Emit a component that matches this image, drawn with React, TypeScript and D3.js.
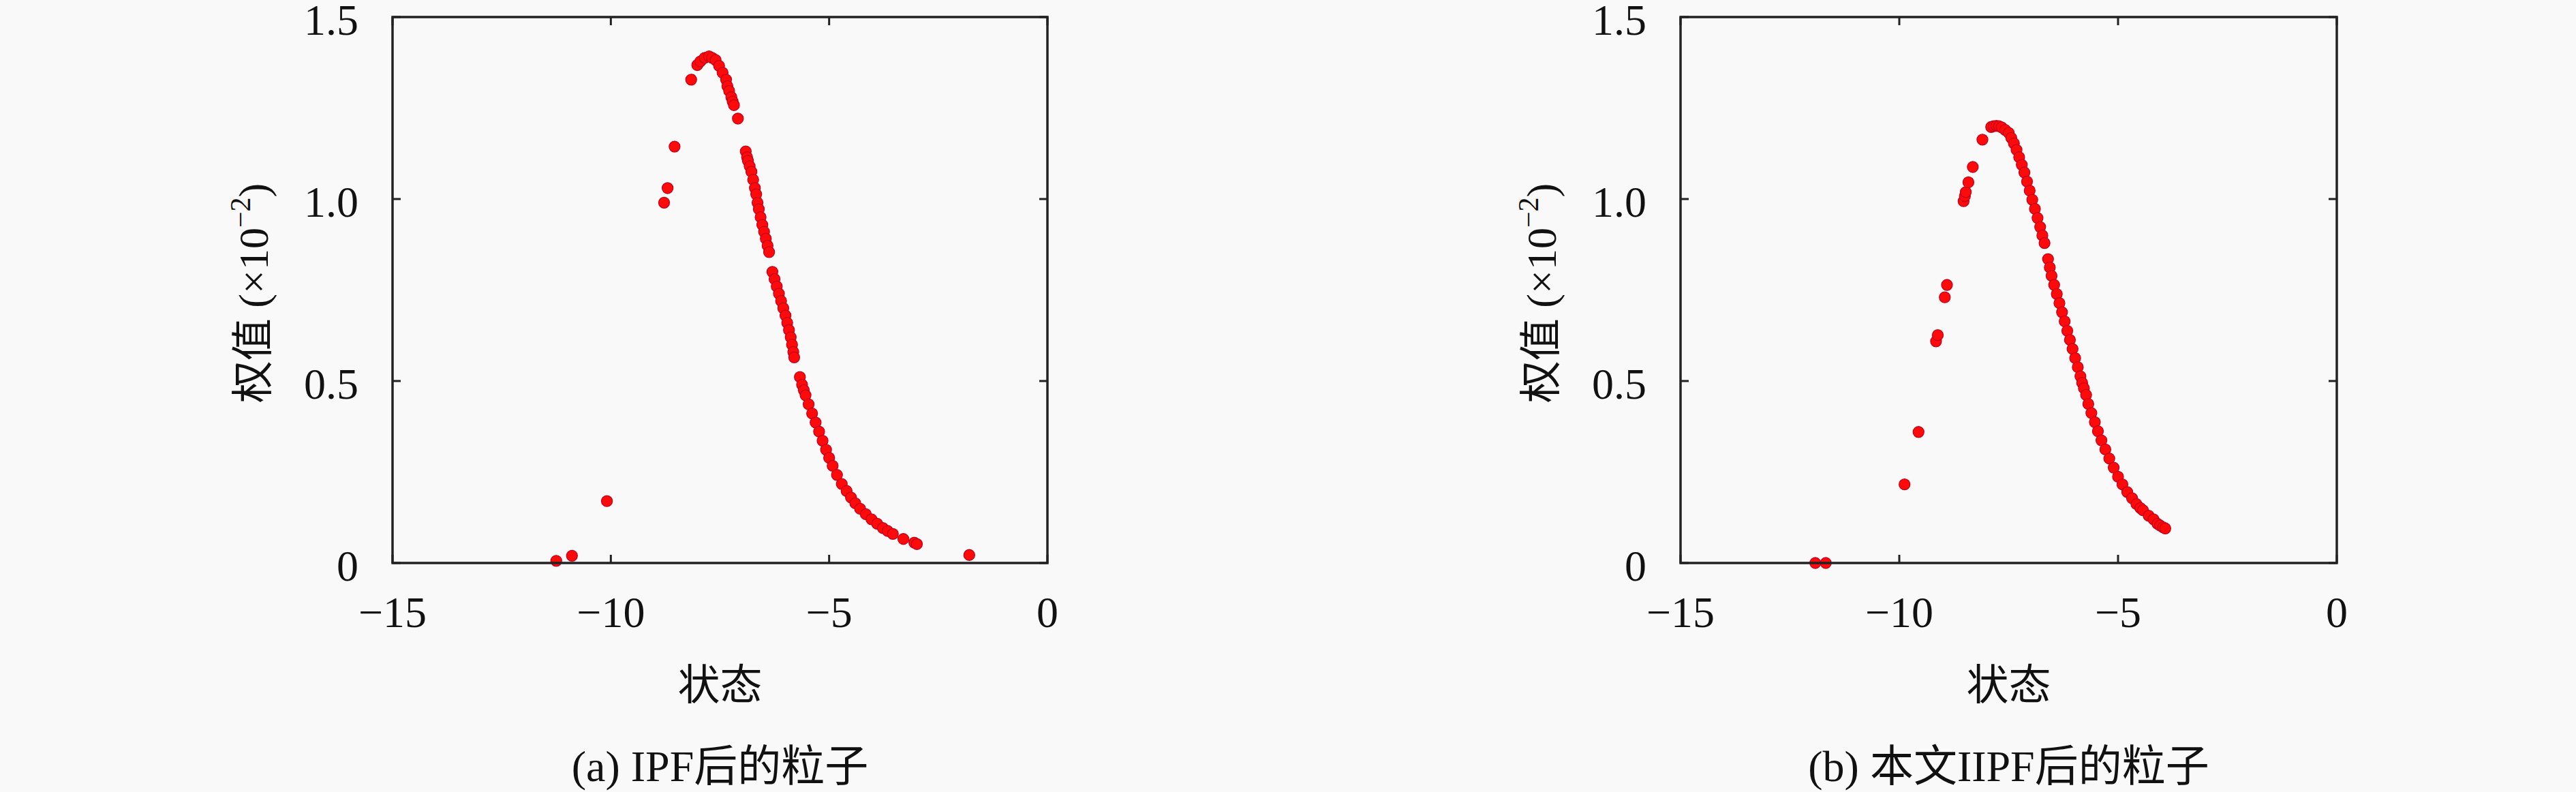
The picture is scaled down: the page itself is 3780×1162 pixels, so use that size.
import React from 'react';
import * as d3 from 'd3';

// x-axis (状态) and y-axis (权值 ×10^-2) ticks shared by both panels
const xTicks = [-15, -10, -5, 0];
const yTicks = [0, 0.5, 1.0, 1.5];
const yTickLabels = ['0', '0.5', '1.0', '1.5'];
const xTickLabels = ['\u221215', '\u221210', '\u22125', '0'];

// (a) particles after IPF
const ipfX = [
  -11.25, -10.89, -10.09,
  -8.78, -8.70, -8.54, -8.16, -8.02, -7.95,
  -7.85, -7.75, -7.68, -7.60, -7.52, -7.44, -7.36, -7.33, -7.29, -7.24, -7.21, -7.18, -7.09,
  -6.91, -6.88, -6.86, -6.82, -6.78, -6.74, -6.70, -6.67, -6.64, -6.61, -6.57, -6.53, -6.49, -6.45, -6.41, -6.375,
  -6.30, -6.25, -6.20, -6.15, -6.10, -6.05, -6.00, -5.96, -5.92, -5.88, -5.85, -5.82, -5.80,
  -5.67, -5.62, -5.58, -5.54, -5.47, -5.39, -5.31, -5.23, -5.15, -5.07, -5.00, -4.92, -4.82, -4.71,
  -4.60, -4.50, -4.40, -4.29, -4.16, -4.03, -3.90, -3.77, -3.66, -3.54, -3.30, -3.05, -2.99, -1.79,
];
const ipfW = [
  0.006, 0.02, 0.17,
  0.99, 1.03, 1.144, 1.328, 1.368, 1.378,
  1.388, 1.392, 1.388, 1.382, 1.366, 1.347, 1.328, 1.31, 1.297, 1.28, 1.268, 1.258, 1.221,
  1.131, 1.115, 1.105, 1.09, 1.075, 1.053, 1.03, 1.013, 0.99, 0.972, 0.95, 0.929, 0.91, 0.891, 0.872, 0.854,
  0.80, 0.78, 0.76, 0.74, 0.72, 0.70, 0.68, 0.66, 0.64, 0.62, 0.60, 0.58, 0.565,
  0.511, 0.49, 0.475, 0.461, 0.436, 0.411, 0.386, 0.361, 0.336, 0.311, 0.289, 0.267, 0.242, 0.217,
  0.198, 0.18, 0.164, 0.149, 0.134, 0.12, 0.108, 0.096, 0.088, 0.08, 0.066, 0.056, 0.052, 0.022,
];

// (b) particles after the proposed IIPF
const iipfX = [
  -11.92, -11.68, -9.88, -9.56, -9.16, -9.12, -8.96, -8.91,
  -8.53, -8.50, -8.48, -8.42, -8.32, -8.10,
  -7.90, -7.84, -7.78, -7.72, -7.66, -7.58, -7.50, -7.44, -7.38, -7.32, -7.26, -7.20, -7.14, -7.08,
  -7.02, -6.96, -6.90, -6.84, -6.78, -6.73, -6.68,
  -6.60, -6.56, -6.52, -6.46, -6.40, -6.34, -6.28, -6.22, -6.16, -6.10, -6.04, -5.98, -5.92, -5.86, -5.82,
  -5.78, -5.73, -5.68, -5.61, -5.53, -5.46, -5.38, -5.29, -5.20, -5.10, -5.00, -4.90, -4.79, -4.68,
  -4.58, -4.49, -4.43,
  -4.30, -4.19, -4.10, -4.04, -3.97, -3.92,
];
const iipfW = [
  0.0, 0.0, 0.216, 0.36, 0.609, 0.626, 0.73, 0.764,
  0.994, 1.008, 1.019, 1.046, 1.088, 1.163,
  1.198, 1.2, 1.201, 1.2, 1.197, 1.19, 1.182, 1.168, 1.153, 1.135, 1.115, 1.094, 1.073, 1.048,
  1.023, 0.998, 0.973, 0.948, 0.923, 0.90, 0.879,
  0.835, 0.812, 0.789, 0.764, 0.739, 0.714, 0.689, 0.664, 0.638, 0.613, 0.588, 0.563, 0.538, 0.513, 0.495,
  0.48, 0.462, 0.437, 0.412, 0.387, 0.362, 0.337, 0.312, 0.287, 0.262, 0.237, 0.216, 0.195, 0.178,
  0.162, 0.151, 0.145,
  0.13, 0.12, 0.108, 0.103, 0.098, 0.095,
];

const W = 3780;
const H = 1162;
const top = 25;
const bottom = 826;
const FONT = '"Liberation Serif", "Noto Sans CJK SC", serif';

type PanelProps = {
  left: number;
  right: number;
  xs: number[];
  ws: number[];
  caption: string;
};

function Panel({ left, right, xs, ws, caption }: PanelProps) {
  const x = d3.scaleLinear().domain([-15, 0]).range([left, right]);
  const y = d3.scaleLinear().domain([0, 1.5]).range([bottom, top]);
  const cx = (left + right) / 2;
  const tick = 12;

  return (
    <g fontFamily={FONT} fill="#111">
      {/* points */}
      {xs.map((v, i) => (
        <circle key={i} cx={x(v)} cy={y(ws[i])} r={8} fill="#ff0a0a" stroke="#c4001c" strokeWidth={1.3} />
      ))}

      {/* box */}
      <rect x={left} y={top} width={right - left} height={bottom - top}
        fill="none" stroke="#222" strokeWidth={3.5} />

      {/* ticks on all four sides */}
      {xTicks.map((t) => (
        <g key={'x' + t}>
          <line x1={x(t)} x2={x(t)} y1={bottom} y2={bottom - tick} stroke="#222" strokeWidth={3} />
          <line x1={x(t)} x2={x(t)} y1={top} y2={top + tick} stroke="#222" strokeWidth={3} />
        </g>
      ))}
      {yTicks.map((t) => (
        <g key={'y' + t}>
          <line x1={left} x2={left + tick} y1={y(t)} y2={y(t)} stroke="#222" strokeWidth={3} />
          <line x1={right} x2={right - tick} y1={y(t)} y2={y(t)} stroke="#222" strokeWidth={3} />
        </g>
      ))}

      {/* tick labels */}
      {xTicks.map((t, i) => (
        <text key={'xl' + t} x={x(t)} y={920} fontSize={64} textAnchor="middle">{xTickLabels[i]}</text>
      ))}
      {yTicks.map((t, i) => (
        <text key={'yl' + t} x={left - 50} y={y(t) + 4} dy="0.34em" fontSize={64} textAnchor="end">{yTickLabels[i]}</text>
      ))}

      {/* axis titles */}
      <text x={cx} y={1005} dy="0.36em" fontSize={62} textAnchor="middle">状态</text>
      <text transform={`translate(${left - 205},430) rotate(-90)`} dy="0.36em" fontSize={62} textAnchor="middle">
        权值 (×10<tspan fontSize={42} dy={-26}>{'\u22122'}</tspan><tspan dy={26}>)</tspan>
      </text>

      {/* caption */}
      <text x={cx} y={1123} dy="0.36em" fontSize={64} textAnchor="middle">{caption}</text>
    </g>
  );
}

export default function App() {
  return (
    <svg width={W} height={H} viewBox={`0 0 ${W} ${H}`}
      style={{ position: 'absolute', left: 0, top: 0, background: '#f9f9f9' }}>
      <Panel left={576} right={1537} xs={ipfX} ws={ipfW} caption="(a) IPF后的粒子" />
      <Panel left={2466} right={3429} xs={iipfX} ws={iipfW} caption="(b) 本文IIPF后的粒子" />
    </svg>
  );
}
